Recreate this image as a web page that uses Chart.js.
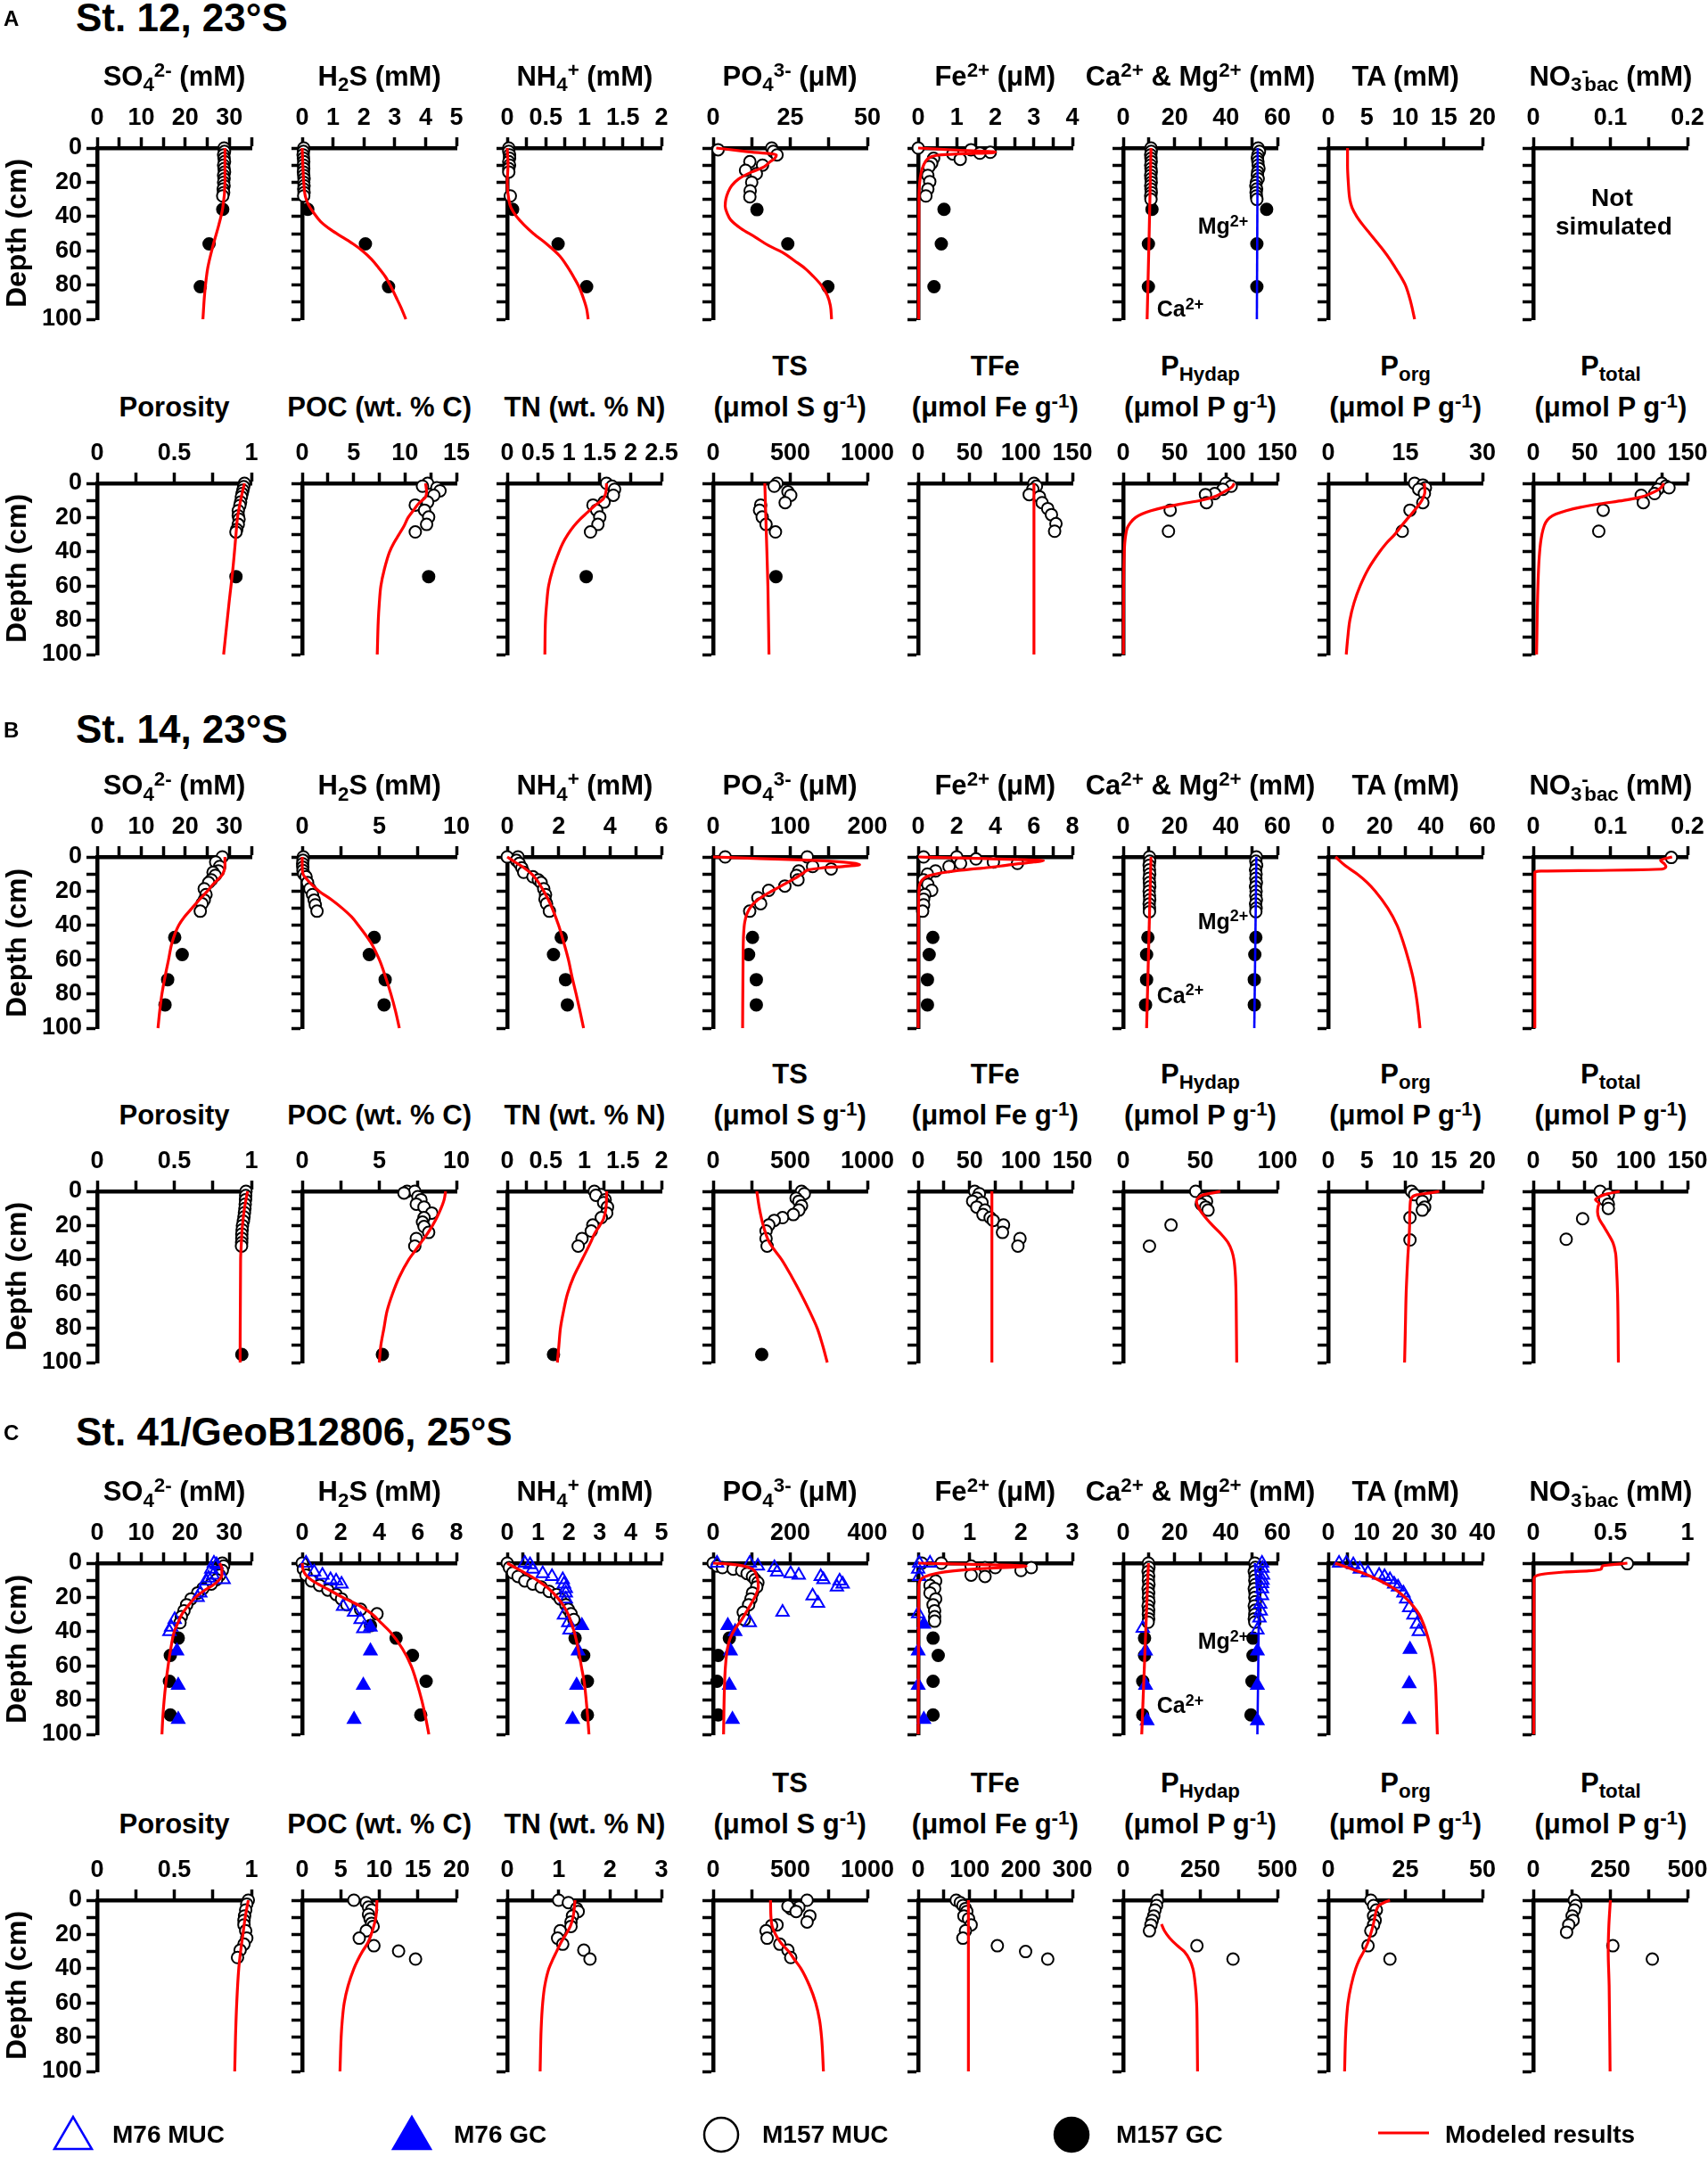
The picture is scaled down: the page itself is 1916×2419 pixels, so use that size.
<!DOCTYPE html>
<html>
<head>
<meta charset="utf-8">
<script src="https://cdn.jsdelivr.net/npm/chart.js@4.4.1/dist/chart.umd.min.js"></script>
<style>
  body { margin: 0; background: #fff; }
  #page { position: relative; width: 1916px; height: 2419px; overflow: hidden;
          font-family: "Liberation Sans", Arial, sans-serif; font-weight: bold; color: #000; }
  canvas.panel { position: absolute; }
  .lbl { position: absolute; white-space: nowrap; text-align: center; }
  .lft { position: absolute; white-space: nowrap; }
  sub, sup { font-size: 0.72em; vertical-align: baseline; position: relative; }
  sub { top: 0.3em; }
  sup { top: -0.45em; }
</style>
</head>
<body>
<div id="page"></div>
<script>
// all profiles are [depth (cm), value]

// ---- St. 12 pore water ----
const A_SO4_MUC = [[0,28.8],[2,28.9],[4,28.7],[6,28.8],[8,28.9],[10,28.7],[12,28.8],[14,28.9],[16,28.7],[18,28.8],[20,28.7],[22,28.8],[24,28.6],[26,28.7],[28,28.5]];
const A_SO4_GC = [[35.8,28.5],[56,25.4],[81,23.4]];
const A_SO4_MOD = [[0,29],[20,29],[35,28.5],[45,27.6],[56,26.4],[70,25.1],[85,24.4],[100,24]];
const A_H2S_MUC = [[0,0.05],[2,0.04],[4,0.03],[6,0.04],[8,0.05],[10,0.04],[12,0.05],[14,0.04],[16,0.05],[18,0.06],[20,0.05],[22,0.06],[24,0.05],[26,0.06],[28,0.05]];
const A_H2S_GC = [[35.8,0.18],[56,2.05],[81,2.8]];
const A_H2S_MOD = [[0,0],[10,0.02],[20,0.05],[28,0.1],[33,0.2],[38,0.38],[43,0.6],[48,0.95],[52,1.3],[56,1.65],[60,1.95],[65,2.25],[70,2.48],[75,2.69],[80,2.85],[87,3.04],[93,3.2],[100,3.36]];
const A_NH4_MUC = [[0,0.02],[2,0.02],[4,0.03],[6,0.03],[8,0.02],[10,0.03],[12,0.02],[14,0.02],[28,0.04]];
const A_NH4_GC = [[35.8,0.07],[56,0.66],[81,1.03]];
const A_NH4_MOD = [[0,0],[10,0.01],[20,0],[30,0.02],[35,0.05],[40,0.12],[45,0.22],[50,0.34],[56,0.51],[63,0.68],[70,0.79],[76,0.87],[81,0.93],[88,0.99],[94,1.03],[100,1.05]];
const A_PO4_MUC = [[1,1.6],[0,19],[2,19.5],[4,20.7],[8,11.9],[10,16],[13,10.5],[15,14],[20,12.5],[25,12],[28.5,11.9]];
const A_PO4_GC = [[36,14.2],[56,24.2],[81,37.2]];
const A_PO4_MOD = [[0,1],[2,10.5],[4,20.5],[6,20],[8,18.5],[11,16.5],[14,12.5],[18,8.3],[22,6],[26,4.8],[30,4.1],[34,3.9],[38,4.5],[42,5.7],[47,9],[52,13.6],[57,18],[61,22.5],[66,26.5],[70,29.6],[75,32.5],[80,35],[86,37],[92,38],[100,38.4]];
const A_FE_MUC = [[0,0],[1,1.37],[2.5,1.87],[3,1.6],[3.5,0.9],[6.6,1.09],[6,0.4],[9,0.35],[11,0.28],[16,0.25],[19.6,0.3],[24,0.25],[28,0.2]];
const A_FE_GC = [[35.8,0.67],[56,0.6],[81,0.41]];
const A_FE_MOD = [[0,0],[1.2,1.0],[2.3,2.0],[2.8,1.9],[3.3,1.2],[4,0.6],[5,0.35],[7,0.22],[10,0.14],[14,0.08],[20,0.04],[30,0.02],[100,0.01]];
const A_CA_MUC = [[0,10.8],[2,10.9],[4,10.7],[6,10.8],[8,10.9],[10,10.7],[12,10.8],[14,10.9],[16,10.7],[18,10.8],[20,10.9],[22,10.7],[24,10.8],[26,10.9],[28,10.7],[30,10.8]];
const A_CA_GC = [[35.8,11.2],[56,9.8],[81,9.8]];
const A_CA_MOD = [[0,10.8],[50,10.1],[100,9.3]];
const A_MG_MUC = [[0,52.5],[2,53],[4,52.4],[6,52.2],[8,52.4],[10,52.5],[12,52.8],[14,52.3],[16,52.2],[18,52.5],[20,51.8],[22,51.6],[24,51.9],[26,51.7],[28,51.8],[30,52]];
const A_MG_GC = [[35.8,55.8],[56,52],[81,52]];
const A_MG_MOD = [[0,52.3],[100,52.0]];
const A_TA_MOD = [[0,2.5],[10,2.5],[20,2.6],[30,2.8],[35,3.1],[40,3.7],[45,4.5],[50,5.4],[55,6.3],[60,7.2],[65,8.0],[70,8.7],[75,9.4],[80,10.0],[90,10.7],[100,11.2]];

// ---- St. 12 solid phase ----
const A_POR_MUC = [[0,0.955],[2,0.95],[4,0.945],[6,0.94],[8,0.935],[11,0.93],[13,0.925],[16,0.915],[19,0.915],[21,0.92],[24,0.915],[27,0.905],[28.5,0.9]];
const A_POR_GC = [[54.5,0.9]];
const A_POR_MOD = [[0,0.955],[10,0.93],[20,0.91],[30,0.9],[50,0.88],[70,0.855],[100,0.82]];
const A_POC_MUC = [[0,12.2],[1.7,11.7],[2.6,13.1],[4.4,13.4],[7,12.8],[11,12.2],[12.7,11],[15.7,11.9],[19.7,12.3],[24,12.1],[28.4,11]];
const A_POC_GC = [[54.5,12.3]];
const A_POC_MOD = [[0,12.0],[5,12.1],[8,12.0],[12,11.3],[16,10.8],[20,10.3],[25,9.9],[30,9.4],[35,8.9],[40,8.5],[50,8.0],[60,7.65],[70,7.5],[80,7.4],[100,7.3]];
const A_TN_MUC = [[0,1.61],[1.7,1.7],[3.5,1.74],[7,1.72],[11,1.57],[12.7,1.39],[15.7,1.45],[19.7,1.5],[24,1.47],[28.4,1.35]];
const A_TN_GC = [[54.5,1.28]];
const A_TN_MOD = [[0,1.61],[5,1.6],[9,1.56],[13,1.42],[17,1.3],[21,1.18],[25,1.08],[30,0.98],[35,0.9],[40,0.84],[50,0.74],[60,0.67],[70,0.64],[80,0.62],[100,0.61]];
const A_TS_MUC = [[0,414],[1.7,396],[5,485],[7,503],[11.3,467],[12.7,308],[15.7,301],[19.7,318],[24,343],[28.4,404]];
const A_TS_GC = [[54.5,407]];
const A_TS_MOD = [[0,335],[30,345],[60,355],[100,362]];
const A_TFE_MUC = [[0,112.6],[1.7,115],[3.5,111.5],[6.6,108],[7.9,118],[11.3,120.5],[14.8,126],[18.3,129.6],[23.6,134],[28,132.7]];
const A_TFE_MOD = [[0,112.6],[100,112.6]];
const A_PHY_MUC = [[0,100],[1.7,105],[3.5,97],[6,89],[6.6,80],[11.3,81],[15.7,45.7],[28,44]];
const A_PHY_MOD = [[0,108],[2,106],[4,101],[6,95],[8,88],[10,75],[12,57],[14,40],[16,27],[18,18],[20,12],[23,7],[26,4],[30,2.5],[35,1.5],[45,0.8],[60,0.4],[100,0.2]];
const A_PORG_MUC = [[0,16.8],[1,18.4],[2.6,18.9],[3.5,17.6],[6,18.7],[11.3,18.4],[15.7,15.9],[28,14.4]];
const A_PORG_MOD = [[0,18.7],[5,18.8],[10,18.2],[15,17],[20,15.6],[25,14.2],[30,12.9],[35,11.3],[40,10],[50,7.8],[60,6.2],[70,5],[80,4.2],[90,3.8],[100,3.5]];
const A_PTOT_MUC = [[0,125],[1.7,129],[2.6,132],[3.5,121],[6,118],[7,105],[11.3,107],[15.7,68],[28,63.7]];
const A_PTOT_MOD = [[0,127],[2,125],[4,121],[6,114],[8,105],[10,88],[12,65],[14,46],[16,32],[18,22],[20,16],[23,12],[27,9.5],[33,7.5],[43,5.8],[60,4.5],[100,3.2]];

// ---- St. 14 pore water ----
const B_SO4_MUC = [[0,28.4],[3,26.9],[5.6,27.8],[8.2,27.5],[9,26.3],[10.8,26.8],[13.4,25.9],[15,25.3],[18.6,24.3],[22,24.7],[25.2,24.3],[27.3,23.8],[31.7,23.4]];
const B_SO4_GC = [[47,17.6],[57,19.3],[71.7,16],[86.4,15.4]];
const B_SO4_MOD = [[0,29],[5,29],[10,28.5],[13,27.5],[16,26.3],[20,25],[25,23.2],[30,21.5],[35,19.8],[40,18.5],[50,17],[60,16.2],[70,15.4],[80,14.7],[90,14.2],[100,13.8]];
const B_H2S_MUC = [[0,0.07],[2,0.05],[4,0.03],[6,0.04],[8,0.05],[10,0.1],[11.6,0.25],[15,0.35],[18.6,0.5],[22,0.67],[25.2,0.78],[28,0.85],[31.7,0.96]];
const B_H2S_GC = [[47,4.67],[57,4.35],[71.7,5.38],[86.4,5.31]];
const B_H2S_MOD = [[0,0],[5,0],[10,0.05],[13,0.3],[16,0.6],[20,1.1],[25,1.9],[30,2.6],[35,3.2],[40,3.65],[50,4.45],[60,5.0],[70,5.4],[80,5.75],[90,6.05],[100,6.3]];
const B_NH4_MUC = [[0,0],[0,0.42],[2,0.36],[3.8,0.47],[6.4,0.57],[9,0.64],[11.6,1.0],[13.4,1.21],[15,1.32],[18.6,1.42],[22,1.49],[24.7,1.47],[27.3,1.53],[31.7,1.64]];
const B_NH4_GC = [[47,2.1],[57,1.8],[71.7,2.27],[86.4,2.34]];
const B_NH4_MOD = [[0,0],[3,0.3],[6,0.62],[10,0.95],[15,1.22],[20,1.42],[25,1.6],[30,1.75],[40,2.0],[50,2.2],[60,2.38],[70,2.52],[80,2.68],[90,2.83],[100,2.97]];
const B_PO4_MUC = [[0,15.6],[0,122],[5.6,129],[7,153],[8.2,111],[10.8,108],[13.4,110],[17,93],[19.5,72],[23.8,58],[27.3,61.6],[31.7,47.4]];
const B_PO4_GC = [[47,51],[57,46],[71.7,56],[86.4,56]];
const B_PO4_MOD = [[0,0],[1,60],[2,130],[3.5,180],[4.5,190],[5.5,170],[6.5,140],[7.5,124],[9,118],[12,108],[15,96],[18,84],[21,72],[25,58],[29,49],[33,44],[38,41],[45,39.5],[60,38.8],[100,38.2]];
const B_FE_MUC = [[0,0.28],[0,2.0],[1.2,3.0],[3,3.9],[3.8,5.15],[3.8,2.2],[5.6,1.6],[8.2,0.9],[10,0.48],[13.4,0.28],[16,0.5],[19.5,0.7],[22,0.34],[24.7,0.28],[28,0.28],[31.7,0.23]];
const B_FE_GC = [[47,0.76],[57,0.57],[71.7,0.48],[86.4,0.48]];
const B_FE_MOD = [[0,0],[0.5,1.5],[1,3.5],[1.6,5.5],[2.2,6.5],[3,6.0],[4,5.2],[5,4.5],[6,3.8],[7,2.9],[8,2.0],[9,1.4],[10,0.9],[11,0.55],[12.5,0.3],[15,0.12],[18,0.05],[30,0.02],[100,0]];
const B_CA_MUC = [[0,10.2],[2.5,10.3],[5,10.1],[7.5,10.2],[10,10.3],[12.5,10.1],[15,10.2],[17.5,10.3],[20,10.1],[22.5,10.2],[25,10.3],[27.5,10.1],[30,10.2],[32,10.2]];
const B_CA_GC = [[47,9.6],[57,9.1],[71.7,9.1],[86.4,8.7]];
const B_CA_MOD = [[0,10.8],[100,9.1]];
const B_MG_MUC = [[0,51.8],[2.5,51.6],[5,51.9],[7.5,51.5],[10,51.7],[12.5,51.6],[15,51.8],[17.5,51.5],[20,51.7],[22.5,51.6],[25,51.8],[27.5,51.5],[30,51.7],[32,51.6]];
const B_MG_GC = [[47,51.6],[57,51.2],[71.7,51],[86.4,51]];
const B_MG_MOD = [[0,51.8],[100,51]];
const B_TA_MOD = [[0,2.8],[5,6.5],[10,11.3],[15,15.2],[20,18.3],[30,23.2],[40,26.8],[50,29.2],[60,31.2],[70,32.9],[80,34.1],[90,35.0],[100,35.7]];
const B_NO3_MUC = [[0.3,0.179]];
const B_NO3_MOD = [[0,0.18],[2,0.165],[4,0.17],[5.6,0.172],[7.0,0.168],[7.8,0.1],[8.3,0.01],[9,0.002],[100,0.002]];

// ---- St. 14 solid phase ----
const B_POR_MUC = [[0,0.965],[2.5,0.963],[5,0.962],[7.5,0.96],[10,0.958],[12.5,0.955],[15,0.952],[17.5,0.948],[20,0.942],[22.5,0.94],[25,0.938],[27.5,0.938],[30,0.937],[32,0.936]];
const B_POR_GC = [[95.3,0.938]];
const B_POR_MOD = [[0,0.975],[10,0.955],[20,0.942],[30,0.935],[40,0.93],[100,0.927]];
const B_POC_MUC = [[0,6.8],[0,7.3],[1,6.6],[3.1,7.5],[4.9,7.7],[7.5,7.4],[9.2,7.9],[12.7,8.4],[15.4,7.9],[18,7.8],[20.6,7.9],[24,8.2],[27.6,7.4],[32,7.3]];
const B_POC_GC = [[95.3,5.2]];
const B_POC_MOD = [[0,9.3],[5,9.2],[10,9.0],[15,8.75],[20,8.45],[25,8.1],[30,7.7],[35,7.3],[40,6.9],[50,6.3],[60,5.85],[70,5.5],[80,5.3],[90,5.1],[100,5.0]];
const B_TN_MUC = [[0,1.13],[2,1.22],[2.3,1.15],[4.9,1.27],[6.6,1.25],[9.2,1.3],[12.7,1.29],[15.4,1.22],[19.7,1.11],[23.2,1.09],[27.6,0.97],[32,0.92]];
const B_TN_GC = [[95.3,0.6]];
const B_TN_MOD = [[0,1.29],[10,1.28],[16,1.25],[20,1.2],[25,1.13],[30,1.08],[40,0.97],[50,0.86],[60,0.78],[70,0.73],[80,0.69],[90,0.67],[100,0.65]];
const B_TS_MUC = [[0,573],[1.4,591],[4,538],[5.8,556],[8.4,573],[11,556],[13.6,520],[15.4,450],[17,396],[19.7,361],[23.2,343],[27.6,343],[32,350]];
const B_TS_GC = [[95.3,315]];
const B_TS_MOD = [[0,283],[10,300],[20,325],[30,365],[40,445],[50,510],[60,570],[70,625],[80,675],[90,710],[100,740]];
const B_TFE_MUC = [[0,55],[1.4,59.5],[4,57],[5.8,53],[6.6,62],[9.2,57],[11,65],[13.6,63],[15.4,70],[17,73],[19.7,83],[24,82],[27.6,99],[32,97]];
const B_TFE_MOD = [[0,71.7],[100,71.7]];
const B_PHY_MUC = [[0,47],[4,52],[5.8,54],[7.5,50.6],[9.2,53.5],[11,55],[19.7,31],[32,17]];
const B_PHY_MOD = [[0,63],[1,58],[2,52],[4,48.5],[6,47.5],[9,48.5],[12,50.5],[16,54],[20,58],[25,63.5],[30,68],[35,70.5],[40,71.8],[50,72.8],[70,73.3],[100,73.6]];
const B_PORG_MUC = [[0,10.8],[2,11.2],[3.1,12.6],[5.8,12.2],[9.2,12.5],[11,12.2],[15.4,10.6],[28.4,10.6]];
const B_PORG_MOD = [[0,14.4],[1,13.2],[2,11.5],[4,10.8],[6,10.65],[20,10.55],[40,10.3],[60,10.1],[80,10.0],[100,9.9]];
const B_PTOT_MUC = [[0,65],[2,73],[4.9,69.5],[7.5,73],[10,73],[16,48],[28,32]];
const B_PTOT_MOD = [[0,84],[1.5,72],[3,65],[5,60.5],[7,64],[9,63],[12,62.5],[16,64],[20,68],[25,73],[30,77.5],[36,80],[45,81],[60,82],[100,82.8]];

// ---- St. 41 / GeoB12806 pore water ----
const C_SO4_MUC = [[0,28.4],[1.7,28.7],[4.3,28.4],[7,27.8],[9.6,27.1],[12.2,25.9],[14.8,24],[17.4,22.8],[20.9,21.3],[24.3,20.3],[27.8,19.7],[31.3,19.1],[34.8,18.8]];
const C_SO4_M76MUC = [[0,26.5],[0.9,27.1],[3.5,25.9],[7,26.3],[8.7,25.3],[10.4,24.7],[9.6,28.7],[17.4,23.4],[20,22.8],[33,17.6],[37.4,16.8],[40,16.4]];
const C_SO4_M76GC = [[51.3,18.1],[71.3,18.4],[91.3,18.4]];
const C_SO4_GC = [[43.8,18.4],[53.9,16.6],[69,16.4],[88.7,16.6]];
const C_SO4_MOD = [[0,27.8],[3,28.3],[7,28.3],[10,27.6],[13,26.2],[16,24.3],[20,22.3],[25,20.6],[30,19.2],[35,18.3],[40,17.5],[50,16.7],[60,16.1],[70,15.6],[80,15.2],[90,14.9],[100,14.7]];
const C_H2S_MUC = [[0,0],[3.5,0.06],[7,0.2],[10.4,0.48],[13,0.9],[15.7,1.33],[18.3,1.76],[20.9,2.04],[24.3,2.32],[27,3.03],[29.6,3.88]];
const C_H2S_M76MUC = [[0,0.2],[5.2,0.62],[7,1.05],[9.6,1.47],[10.4,1.76],[12.2,2.04],[25.2,2.12],[28.7,2.69],[33,3.03],[38.3,3.17]];
const C_H2S_M76GC = [[37.4,3.54],[51.3,3.54],[71.3,3.17],[91.3,2.69]];
const C_H2S_GC = [[36.5,3.54],[43.8,4.87],[53.9,5.72],[69,6.43],[88.7,6.15]];
const C_H2S_MOD = [[0,0],[4,0.05],[7,0.2],[10,0.5],[13,0.95],[16,1.45],[20,2.1],[25,3.0],[30,3.65],[35,4.1],[40,4.55],[50,5.2],[60,5.65],[70,5.95],[80,6.2],[90,6.4],[100,6.57]];
const C_NH4_MUC = [[0,0],[2.6,0.07],[5.6,0.18],[7.8,0.35],[10.4,0.57],[12.2,0.83],[13.9,1.1],[16.5,1.36],[18.3,1.6],[20.9,1.72],[24.3,1.9],[27,1.98],[29.6,2.07],[33,2.16]];
const C_NH4_M76MUC = [[0,0.57],[0.9,0.74],[3.5,0.83],[6.1,1.15],[7.8,1.45],[9.6,1.8],[12.2,1.84],[14.8,1.9],[17.4,1.9],[20.9,1.9],[30.4,1.84],[34.8,1.98],[39.1,2.02]];
const C_NH4_M76GC = [[36.5,2.42],[51.3,2.3],[71.3,2.25],[91.3,2.12]];
const C_NH4_GC = [[43.8,2.2],[53.9,2.48],[69,2.6],[88.7,2.6]];
const C_NH4_MOD = [[0,0],[3,0.3],[6,0.6],[10,0.97],[15,1.35],[20,1.62],[25,1.83],[30,1.98],[35,2.08],[40,2.17],[50,2.3],[60,2.4],[70,2.5],[80,2.56],[90,2.61],[100,2.65]];
const C_PO4_MUC = [[0,0],[1.7,10],[2.6,24],[3.5,52],[4.3,74],[6.1,88],[7.8,102],[9.6,109],[11.3,116],[13.9,113],[17.4,102],[20.9,98],[24.3,92],[28.7,78],[33,81]];
const C_PO4_M76MUC = [[0,10],[0,95],[1.7,116],[2.6,159],[5.2,166],[6.1,201],[7,222],[7.8,279],[9.6,286],[10.4,328],[12.2,336],[13.9,321],[19.1,258],[23.5,272],[28.7,180],[34.8,95]];
const C_PO4_M76GC = [[36.5,38],[40,57],[51.3,45],[71.3,42],[91.3,50]];
const C_PO4_GC = [[43.8,42],[53.9,13],[69,10],[88.7,13]];
const C_PO4_MOD = [[0,0],[0.7,50],[1.7,80],[3.5,102],[7,112],[10,116],[14,117],[18,112],[22,103],[27,90],[33,74],[38,58],[44,44],[50,37],[60,32],[75,29],[100,27]];
const C_FE_MUC = [[0,0.07],[0,0.45],[1.7,1.03],[2.6,1.3],[2.6,1.5],[4.3,2.0],[2.6,2.2],[7,1.03],[7.8,1.3],[10.4,0.34],[13,0.23],[14.8,0.32],[17.4,0.23],[20.9,0.34],[24.3,0.29],[27.8,0.32],[31.3,0.32],[33.9,0.32]];
const C_FE_M76MUC = [[0,0.02],[0,0.23],[3.5,0],[7.8,0.02],[29.6,0]];
const C_FE_M76GC = [[35.7,0.11],[51.3,0],[71.3,0],[91.3,0.11]];
const C_FE_GC = [[43.8,0.29],[53.9,0.39],[69,0.29],[88.7,0.29]];
const C_FE_MOD = [[0,0],[0.6,0.9],[1.2,1.8],[1.8,2.1],[2.5,1.7],[3.5,1.1],[4.5,0.7],[6,0.35],[8,0.12],[10,0.04],[14,0.01],[100,0]];
const C_CA_MUC = [[0,9.8],[2.5,10],[5,9.7],[7.5,9.9],[10,9.8],[12.5,10],[15,9.7],[17.5,9.9],[20,9.8],[22.5,10],[25,9.7],[27.5,9.9],[30,9.8],[32.5,9.9],[34.5,9.7]];
const C_CA_M76MUC = [[38,7.6]];
const C_CA_M76GC = [[51.3,8.7],[71.3,8.7],[92,9.3]];
const C_CA_GC = [[43.8,8.3],[53.9,8.3],[69,7.6],[88.7,7.6]];
const C_CA_MOD = [[0,9.8],[100,7.2]];
const C_MG_MUC = [[0,51.2],[2.5,51.4],[5,51.0],[7.5,51.3],[10,51.2],[12.5,51.4],[15,51.0],[17.5,51.3],[20,51.2],[22.5,51.4],[25,51.0],[27.5,51.3],[30,51.2],[32.5,51.0],[34.5,51.2]];
const C_MG_M76MUC = [[0,54],[3,54.2],[7,54.4],[10,54.2],[12,54],[15,54],[19,54],[24,53.3],[28,53.5],[32,53],[39,52.2]];
const C_MG_M76GC = [[51.3,52.2],[71.3,52.2],[92,52.2]];
const C_MG_GC = [[43.8,50.5],[53.9,50.5],[69,50.1],[88.7,49.7]];
const C_MG_MOD = [[0,51.2],[30,52.7],[100,52.2]];
const C_TA_M76MUC = [[0,2.8],[0,4.7],[0.9,6.5],[3.5,8.2],[5.6,10.3],[7,13.2],[7.8,14.6],[9.6,16],[12.2,17.1],[13.9,18.1],[17.4,19.5],[20.9,20.2],[26,21],[30.4,22.1],[35.7,23],[40,23.5]];
const C_TA_M76GC = [[50.4,21.2],[70.4,21],[91.3,21]];
const C_TA_MOD = [[0,1.8],[5,8],[10,13.2],[15,17.2],[20,19.9],[25,22],[30,23.6],[35,24.6],[40,25.4],[50,26.6],[60,27.4],[70,27.8],[80,28.0],[100,28.3]];
const C_NO3_MUC = [[0.3,0.61]];
const C_NO3_MOD = [[0,0.61],[1,0.5],[1.5,0.45],[3.5,0.44],[4.5,0.36],[5.2,0.2],[6,0.1],[7,0.03],[9,0.005],[100,0.003]];

// ---- St. 41 / GeoB12806 solid phase ----
const C_POR_MUC = [[0,0.98],[2.3,0.97],[5.7,0.963],[9.2,0.956],[11.8,0.952],[14.4,0.952],[17.9,0.963],[22.2,0.97],[25.7,0.952],[29.2,0.927],[33.5,0.91]];
const C_POR_MOD = [[0,0.98],[10,0.96],[20,0.945],[30,0.93],[40,0.918],[60,0.905],[80,0.897],[100,0.892]];
const C_POC_MUC = [[0,6.7],[1.4,8.3],[4,8.6],[5.7,9.0],[8.3,8.6],[10.9,8.8],[13.5,9.0],[15.3,9.2],[17.9,8.3],[22.2,7.4],[26.6,9.3],[29.7,12.5],[34.4,14.7]];
const C_POC_MOD = [[0,9.7],[10,9.55],[20,8.95],[25,8.5],[30,7.8],[35,7.2],[40,6.7],[50,5.95],[60,5.45],[70,5.2],[80,5.05],[100,4.9]];
const C_TN_MUC = [[0,1.0],[1.4,1.19],[4.9,1.35],[6.6,1.38],[9.2,1.27],[12.7,1.24],[15.3,1.24],[17.9,1.03],[22.2,0.98],[25.7,1.08],[29.2,1.49],[34.4,1.61]];
const C_TN_MOD = [[0,1.32],[10,1.28],[15,1.23],[20,1.14],[25,1.04],[30,0.96],[35,0.88],[40,0.81],[50,0.73],[60,0.69],[75,0.66],[100,0.64]];
const C_TS_MUC = [[0,609],[4,556],[4.9,503],[3.5,485],[6.6,538],[9.2,627],[12.7,609],[14.4,414],[14.8,379],[17.9,343],[22.2,350],[25.7,432],[29.2,485],[33.5,503]];
const C_TS_MOD = [[0,372],[10,375],[15,382],[20,405],[25,440],[30,490],[35,530],[40,570],[50,625],[60,665],[70,690],[80,703],[90,710],[100,715]];
const C_TFE_MUC = [[0,74],[1.4,82],[3.1,87],[4.9,92],[6.6,94.5],[9.2,89],[10.9,98],[14.4,103],[17.9,92],[22.2,87],[26.6,154],[30,209],[34.4,252]];
const C_TFE_MOD = [[0,97.7],[100,97.7]];
const C_PHY_MUC = [[0,111],[3.1,108],[5.7,103],[9.2,99],[11.8,94],[14.4,90],[17.9,85],[26.6,239],[34.4,356]];
const C_PHY_MOD = [[14,124],[18,134],[22,150],[26,172],[30,198],[35,216],[40,226],[50,234],[60,238],[80,240],[100,241]];
const C_PORG_MUC = [[0,13.8],[3.1,14.7],[5.7,15.6],[9.2,14.7],[11.8,15.2],[14.4,14.7],[17.9,13.8],[26.6,12.9],[34.4,20]];
const C_PORG_MOD = [[0,20],[1,18.5],[3,16.5],[6,15.6],[10,15.1],[15,14.5],[20,13.7],[25,12.8],[30,11.5],[35,10],[40,8.9],[50,7.4],[60,6.4],[70,5.9],[80,5.6],[100,5.3]];
const C_PTOT_MUC = [[0,133],[3.1,138],[5.7,133],[9.2,126],[11.8,129],[14.4,115],[18.7,108],[26.6,258],[34.4,386]];
const C_PTOT_MOD = [[0,250],[15,245],[30,243],[50,246],[100,249]];

// axis titles
const T_SO4 = 'SO<sub>4</sub><sup>2-</sup> (mM)';
const T_H2S = 'H<sub>2</sub>S (mM)';
const T_NH4 = 'NH<sub>4</sub><sup>+</sup> (mM)';
const T_PO4 = 'PO<sub>4</sub><sup>3-</sup> (μM)';
const T_FE = 'Fe<sup>2+</sup> (μM)';
const T_CAMG = 'Ca<sup>2+</sup> &amp; Mg<sup>2+</sup> (mM)';
const T_TA = 'TA (mM)';
const T_NO3 = 'NO<sub>3</sub><sup>-</sup><sub style="margin-left:-0.2em">bac</sub> (mM)';
const T_POR = ['Porosity'];
const T_POC = ['POC (wt. % C)'];
const T_TN = ['TN (wt. % N)'];
const T_TS = ['TS', '(μmol S g<sup>-1</sup>)'];
const T_TFE = ['TFe', '(μmol Fe g<sup>-1</sup>)'];
const T_PHY = ['P<sub>Hydap</sub>', '(μmol P g<sup>-1</sup>)'];
const T_PORG = ['P<sub>org</sub>', '(μmol P g<sup>-1</sup>)'];
const T_PTOT = ['P<sub>total</sub>', '(μmol P g<sup>-1</sup>)'];

const STATIONS = [['A', 'St. 12, 23°S'], ['B', 'St. 14, 23°S'], ['C', 'St. 41/GeoB12806, 25°S']];
const DEPTH_TICKS = [0, 10, 20, 30, 40, 50, 60, 70, 80, 90, 100];

// layout (page px)
const COL_X0 = 109, COL_STEP = 230.2, PLOT_W = 173, PLOT_H = 192;
const ROW_AXIS = [165.7, 541.7, 961, 1335.7, 1753.3, 2130.7];
const PAD_L = 70, PAD_T = 60, PAD_R = 44, PAD_B = 16;
const FONT = '"Liberation Sans", Arial, sans-serif';

const MARKERS = {
  muc:    { style: 'circle',   r: 6.5, line: '#000000', fill: '#ffffff' },
  gc:     { style: 'circle',   r: 6.5, line: '#000000', fill: '#000000' },
  m76muc: { style: 'triangle', r: 8,   line: '#0000ff', fill: 'rgba(0,0,0,0)' },
  m76gc:  { style: 'triangle', r: 8,   line: '#0000ff', fill: '#0000ff' }
};

const P = (row, col, title, max, major, minor, series, opts) => ({ row, col, title, max, major, minor, series, opts: opts || {} });

const panels = [
  P(0, 0, T_SO4, 35, 10, 5, [['mod', A_SO4_MOD], ['muc', A_SO4_MUC], ['gc', A_SO4_GC]]),
  P(0, 1, T_H2S, 5, 1, 1, [['mod', A_H2S_MOD], ['muc', A_H2S_MUC], ['gc', A_H2S_GC]]),
  P(0, 2, T_NH4, 2, 0.5, 0.25, [['mod', A_NH4_MOD], ['muc', A_NH4_MUC], ['gc', A_NH4_GC]]),
  P(0, 3, T_PO4, 50, 25, 12.5, [['mod', A_PO4_MOD], ['muc', A_PO4_MUC], ['gc', A_PO4_GC]]),
  P(0, 4, T_FE, 4, 1, 0.5, [['mod', A_FE_MOD], ['muc', A_FE_MUC], ['gc', A_FE_GC]]),
  P(0, 5, T_CAMG, 60, 20, 10, [['mod', A_CA_MOD], ['modb', A_MG_MOD], ['muc', A_CA_MUC], ['gc', A_CA_GC], ['muc', A_MG_MUC], ['gc', A_MG_GC]], { camg: [88, 181] }),
  P(0, 6, T_TA, 20, 5, 5, [['mod', A_TA_MOD]]),
  P(0, 7, T_NO3, 0.2, 0.1, 0.05, [], { notSim: true }),

  P(1, 0, T_POR, 1, 0.5, 0.25, [['mod', A_POR_MOD], ['muc', A_POR_MUC], ['gc', A_POR_GC]]),
  P(1, 1, T_POC, 15, 5, 2.5, [['mod', A_POC_MOD], ['muc', A_POC_MUC], ['gc', A_POC_GC]]),
  P(1, 2, T_TN, 2.5, 0.5, 0.5, [['mod', A_TN_MOD], ['muc', A_TN_MUC], ['gc', A_TN_GC]]),
  P(1, 3, T_TS, 1000, 500, 250, [['mod', A_TS_MOD], ['muc', A_TS_MUC], ['gc', A_TS_GC]]),
  P(1, 4, T_TFE, 150, 50, 25, [['mod', A_TFE_MOD], ['muc', A_TFE_MUC]]),
  P(1, 5, T_PHY, 150, 50, 25, [['mod', A_PHY_MOD], ['muc', A_PHY_MUC]]),
  P(1, 6, T_PORG, 30, 15, 7.5, [['mod', A_PORG_MOD], ['muc', A_PORG_MUC]]),
  P(1, 7, T_PTOT, 150, 50, 25, [['mod', A_PTOT_MOD], ['muc', A_PTOT_MUC]]),

  P(2, 0, T_SO4, 35, 10, 5, [['mod', B_SO4_MOD], ['muc', B_SO4_MUC], ['gc', B_SO4_GC]]),
  P(2, 1, T_H2S, 10, 5, 2.5, [['mod', B_H2S_MOD], ['muc', B_H2S_MUC], ['gc', B_H2S_GC]]),
  P(2, 2, T_NH4, 6, 2, 1, [['mod', B_NH4_MOD], ['muc', B_NH4_MUC], ['gc', B_NH4_GC]]),
  P(2, 3, T_PO4, 200, 100, 50, [['mod', B_PO4_MOD], ['muc', B_PO4_MUC], ['gc', B_PO4_GC]]),
  P(2, 4, T_FE, 8, 2, 1, [['mod', B_FE_MOD], ['muc', B_FE_MUC], ['gc', B_FE_GC]]),
  P(2, 5, T_CAMG, 60, 20, 10, [['mod', B_CA_MOD], ['modb', B_MG_MOD], ['muc', B_CA_MUC], ['gc', B_CA_GC], ['muc', B_MG_MUC], ['gc', B_MG_GC]], { camg: [72, 155] }),
  P(2, 6, T_TA, 60, 20, 10, [['mod', B_TA_MOD]]),
  P(2, 7, T_NO3, 0.2, 0.1, 0.05, [['mod', B_NO3_MOD], ['muc', B_NO3_MUC]]),

  P(3, 0, T_POR, 1, 0.5, 0.25, [['mod', B_POR_MOD], ['muc', B_POR_MUC], ['gc', B_POR_GC]]),
  P(3, 1, T_POC, 10, 5, 2.5, [['mod', B_POC_MOD], ['muc', B_POC_MUC], ['gc', B_POC_GC]]),
  P(3, 2, T_TN, 2, 0.5, 0.25, [['mod', B_TN_MOD], ['muc', B_TN_MUC], ['gc', B_TN_GC]]),
  P(3, 3, T_TS, 1000, 500, 250, [['mod', B_TS_MOD], ['muc', B_TS_MUC], ['gc', B_TS_GC]]),
  P(3, 4, T_TFE, 150, 50, 25, [['mod', B_TFE_MOD], ['muc', B_TFE_MUC]]),
  P(3, 5, T_PHY, 100, 50, 25, [['mod', B_PHY_MOD], ['muc', B_PHY_MUC]]),
  P(3, 6, T_PORG, 20, 5, 5, [['mod', B_PORG_MOD], ['muc', B_PORG_MUC]]),
  P(3, 7, T_PTOT, 150, 50, 25, [['mod', B_PTOT_MOD], ['muc', B_PTOT_MUC]]),

  P(4, 0, T_SO4, 35, 10, 5, [['mod', C_SO4_MOD], ['m76muc', C_SO4_M76MUC], ['muc', C_SO4_MUC], ['m76gc', C_SO4_M76GC], ['gc', C_SO4_GC]]),
  P(4, 1, T_H2S, 8, 2, 1, [['mod', C_H2S_MOD], ['m76muc', C_H2S_M76MUC], ['muc', C_H2S_MUC], ['m76gc', C_H2S_M76GC], ['gc', C_H2S_GC]]),
  P(4, 2, T_NH4, 5, 1, 0.5, [['mod', C_NH4_MOD], ['m76muc', C_NH4_M76MUC], ['muc', C_NH4_MUC], ['m76gc', C_NH4_M76GC], ['gc', C_NH4_GC]]),
  P(4, 3, T_PO4, 400, 200, 100, [['mod', C_PO4_MOD], ['m76muc', C_PO4_M76MUC], ['muc', C_PO4_MUC], ['m76gc', C_PO4_M76GC], ['gc', C_PO4_GC]]),
  P(4, 4, T_FE, 3, 1, 0.5, [['mod', C_FE_MOD], ['m76muc', C_FE_M76MUC], ['muc', C_FE_MUC], ['m76gc', C_FE_M76GC], ['gc', C_FE_GC]]),
  P(4, 5, T_CAMG, 60, 20, 10, [['mod', C_CA_MOD], ['modb', C_MG_MOD], ['m76muc', C_CA_M76MUC], ['muc', C_CA_MUC], ['m76gc', C_CA_M76GC], ['gc', C_CA_GC],
                               ['m76muc', C_MG_M76MUC], ['muc', C_MG_MUC], ['m76gc', C_MG_M76GC], ['gc', C_MG_GC]], { camg: [87, 159] }),
  P(4, 6, T_TA, 40, 10, 5, [['mod', C_TA_MOD], ['m76muc', C_TA_M76MUC], ['m76gc', C_TA_M76GC]]),
  P(4, 7, T_NO3, 1, 0.5, 0.25, [['mod', C_NO3_MOD], ['muc', C_NO3_MUC]]),

  P(5, 0, T_POR, 1, 0.5, 0.25, [['mod', C_POR_MOD], ['muc', C_POR_MUC]]),
  P(5, 1, T_POC, 20, 5, 5, [['mod', C_POC_MOD], ['muc', C_POC_MUC]]),
  P(5, 2, T_TN, 3, 1, 0.5, [['mod', C_TN_MOD], ['muc', C_TN_MUC]]),
  P(5, 3, T_TS, 1000, 500, 250, [['mod', C_TS_MOD], ['muc', C_TS_MUC]]),
  P(5, 4, T_TFE, 300, 100, 50, [['mod', C_TFE_MOD], ['muc', C_TFE_MUC]]),
  P(5, 5, T_PHY, 500, 250, 125, [['mod', C_PHY_MOD], ['muc', C_PHY_MUC]]),
  P(5, 6, T_PORG, 50, 25, 12.5, [['mod', C_PORG_MOD], ['muc', C_PORG_MUC]]),
  P(5, 7, T_PTOT, 500, 250, 125, [['mod', C_PTOT_MOD], ['muc', C_PTOT_MUC]])
];

const LEGEND = [
  { kind: 'm76muc', label: 'M76 MUC', sx: 82, tx: 126 },
  { kind: 'm76gc', label: 'M76 GC', sx: 462, tx: 509 },
  { kind: 'muc', label: 'M157 MUC', sx: 809, tx: 855 },
  { kind: 'gc', label: 'M157 GC', sx: 1202, tx: 1252 },
  { kind: 'mod', label: 'Modeled results', sx: 1574, tx: 1621 }
];
const LEGEND_Y = 2394;

const page = document.getElementById('page');
Chart.defaults.font.family = FONT;
Chart.defaults.font.weight = 'bold';
Chart.defaults.color = '#000';

const isMajor = (v, major) => Math.abs(v / major - Math.round(v / major)) < 1e-6;
const fmt = v => String(+v.toFixed(3));

function tickList(max, step) {
  const out = [];
  for (let i = 0; i * step <= max + 1e-9; i++) out.push({ value: +(i * step).toFixed(4) });
  return out;
}

function addText(html, cx, cy, size, cls) {
  const d = document.createElement('div');
  d.className = cls || 'lbl';
  d.innerHTML = html;
  d.style.fontSize = size + 'px';
  const lh = Math.round(size * 1.16);
  d.style.lineHeight = lh + 'px';
  if (cls === 'lft') {
    d.style.left = cx + 'px';
  } else {
    d.style.left = (cx - 200) + 'px';
    d.style.width = '400px';
  }
  d.style.top = (cy - lh / 2) + 'px';
  page.appendChild(d);
  return d;
}

function makeDataset(kind, data) {
  const pts = data.map(([d, v]) => ({ x: v, y: d }));
  if (kind === 'mod' || kind === 'modb') {
    return {
      data: pts, borderColor: kind === 'mod' ? '#ff0000' : '#0000ff', borderWidth: kind === 'mod' ? 3.2 : 2.6,
      pointRadius: 0, fill: false, cubicInterpolationMode: 'monotone', clip: false
    };
  }
  const m = MARKERS[kind];
  return {
    data: pts, showLine: false, pointStyle: m.style, pointRadius: m.r,
    pointBorderWidth: 2, pointBorderColor: m.line, pointBackgroundColor: m.fill, clip: false
  };
}

function makePanel(p) {
  const left = COL_X0 + COL_STEP * p.col;
  const axisY = ROW_AXIS[p.row];
  const cv = document.createElement('canvas');
  cv.className = 'panel';
  cv.width = PAD_L + PLOT_W + PAD_R;
  cv.height = PAD_T + PLOT_H + PAD_B;
  cv.style.left = (left - PAD_L) + 'px';
  cv.style.top = (axisY - PAD_T) + 'px';
  page.appendChild(cv);

  const tickFont = { family: FONT, size: 27, weight: 'bold' };
  new Chart(cv, {
    type: 'line',
    data: { datasets: p.series.map(([k, d]) => makeDataset(k, d)) },
    options: {
      indexAxis: 'y',
      responsive: false,
      animation: false,
      events: [],
      layout: { padding: { left: 0, top: 0, right: PAD_R, bottom: PAD_B } },
      plugins: { legend: { display: false }, tooltip: { enabled: false } },
      scales: {
        x: {
          type: 'linear', position: 'top', min: 0, max: p.max,
          afterBuildTicks: s => { s.ticks = tickList(p.max, p.minor); },
          afterFit: s => { s.height = PAD_T; s.paddingLeft = 0; s.paddingRight = 0; },
          ticks: {
            autoSkip: false, maxRotation: 0, minRotation: 0, padding: 5, color: '#000', font: tickFont,
            callback: v => isMajor(v, p.major) ? fmt(v) : ''
          },
          grid: { drawOnChartArea: false, drawTicks: true, tickLength: 12, tickWidth: 3.5, tickColor: '#000' },
          border: { display: true, width: 4.5, color: '#000' }
        },
        y: {
          type: 'linear', position: 'left', min: 0, max: 100, reverse: true,
          afterBuildTicks: s => { s.ticks = DEPTH_TICKS.map(v => ({ value: v })); },
          afterFit: s => { s.width = PAD_L; s.paddingTop = 0; s.paddingBottom = 0; },
          ticks: {
            autoSkip: false, padding: 5, color: '#000', font: tickFont,
            callback: v => (p.col === 0 && v % 20 === 0) ? String(v) : ''
          },
          grid: { drawOnChartArea: false, drawTicks: true, tickLength: 12, tickWidth: 3.5, tickColor: '#000' },
          border: { display: true, width: 4.5, color: '#000' }
        }
      }
    }
  });

  // panel title
  const cx = left + PLOT_W / 2;
  if (p.row % 2 === 0) {
    addText(p.title, cx, axisY - 80, 31);
  } else if (p.title.length === 1) {
    addText(p.title[0], cx, axisY - 85, 31);
  } else {
    addText(p.title[0], cx, axisY - 131, 31);
    addText(p.title[1], cx, axisY - 85, 31);
  }

  if (p.opts.camg) {
    addText('Mg<sup>2+</sup>', left + 112, axisY + p.opts.camg[0], 25);
    addText('Ca<sup>2+</sup>', left + 64, axisY + p.opts.camg[1], 25);
  }
  if (p.opts.notSim) {
    addText('Not', left + 88, axisY + 56, 28);
    addText('simulated', left + 90, axisY + 88, 28);
  }
}

panels.forEach(makePanel);

// depth labels, one per row
ROW_AXIS.forEach(ay => {
  const d = addText('Depth (cm)', 18, ay + 96, 32);
  d.style.transform = 'rotate(-90deg)';
});

// station headers
const HEAD_Y = [19, 817, 1605];
STATIONS.forEach(([letter, name], i) => {
  addText(letter, 4, HEAD_Y[i] + 2, 24, 'lft');
  addText(name, 85, HEAD_Y[i], 44, 'lft');
});

// legend
const NS = 'http://www.w3.org/2000/svg';
const svg = document.createElementNS(NS, 'svg');
svg.setAttribute('width', '1916');
svg.setAttribute('height', '60');
svg.style.position = 'absolute';
svg.style.left = '0px';
svg.style.top = (LEGEND_Y - 30) + 'px';
const cy = 30;
LEGEND.forEach(it => {
  let el;
  if (it.kind === 'mod') {
    el = document.createElementNS(NS, 'line');
    el.setAttribute('x1', it.sx - 28); el.setAttribute('x2', it.sx + 29);
    el.setAttribute('y1', cy - 2); el.setAttribute('y2', cy - 2);
    el.setAttribute('stroke', '#ff0000'); el.setAttribute('stroke-width', '3.2');
  } else {
    const m = MARKERS[it.kind];
    if (m.style === 'circle') {
      el = document.createElementNS(NS, 'circle');
      el.setAttribute('cx', it.sx); el.setAttribute('cy', cy); el.setAttribute('r', 19);
    } else {
      el = document.createElementNS(NS, 'polygon');
      const s = 21;
      el.setAttribute('points', `${it.sx},${cy - 20} ${it.sx - s},${cy + 16} ${it.sx + s},${cy + 16}`);
    }
    el.setAttribute('fill', m.fill === 'rgba(0,0,0,0)' ? 'none' : m.fill);
    el.setAttribute('stroke', m.line);
    el.setAttribute('stroke-width', '2.5');
  }
  svg.appendChild(el);
});
page.appendChild(svg);
LEGEND.forEach(it => addText(it.label, it.tx, LEGEND_Y, 28, 'lft'));
</script>
</body>
</html>
